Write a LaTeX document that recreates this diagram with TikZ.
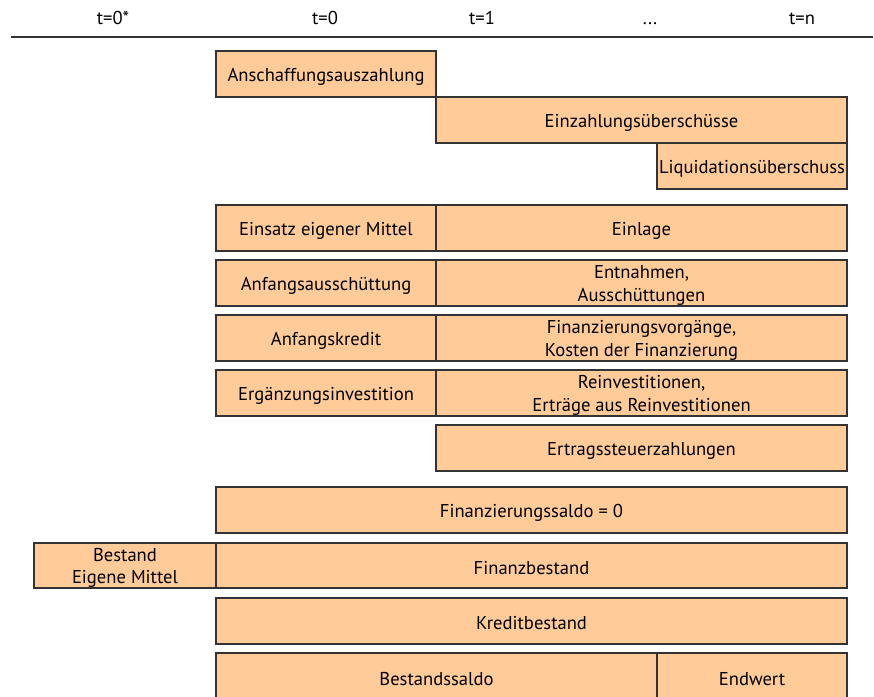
\documentclass[tikz,border=0pt]{standalone}
\usepackage{fontspec}
\setmainfont{PT Sans}
\begin{document}
\begin{tikzpicture}[x=1pt,y=-1pt,
  cell/.style={draw=black!80,line width=1.2pt,fill=boxfill,rectangle,
    anchor=north west,inner sep=0pt,outer sep=0pt},
  txt/.style={align=center,inner sep=0pt,yshift=-2.5pt,
    font=\fontsize{18.6}{22.5}\selectfont},
  head/.style={font=\fontsize{18.6}{22.5}\selectfont,anchor=base}]
\definecolor{boxfill}{HTML}{FFCC99}
% #1 name, #2 top-left corner, #3 width, #4 height, #5 text
\newcommand\cellbox[5]{%
  \node[cell,minimum width=#3pt,minimum height=#4pt,
    label={[txt]center:{#5}}] (#1) at #2 {};}
\useasboundingbox (0,0) rectangle (874,696);
% time axis
\node[head] (h0s) at (113,24) {t=0*};
\node[head] (h0) at (325,24) {t=0};
\node[head] (h1) at (482,24) {t=1};
\node[head] (hd) at (650,24) {...};
\node[head] (hn) at (802,24) {t=n};
\coordinate (axl) at (11,37);
\coordinate (axr) at (873,37);
\draw[line width=1.2pt,black!80] (axl) -- (axr);
% investment payments
\cellbox{aus}{(216,51)}{220}{46}{Anschaffungsauszahlung}
\cellbox{ein}{(436,97)}{411}{46}{Einzahlungsüberschüsse}
\cellbox{liq}{(657,143)}{190}{46}{Liquidationsüberschuss}
% financing rows
\cellbox{eem}{(216,205)}{220}{46}{Einsatz eigener Mittel}
\cellbox{einl}{(436,205)}{411}{46}{Einlage}
\cellbox{aas}{(216,260)}{220}{46}{Anfangsausschüttung}
\cellbox{ent}{(436,260)}{411}{46}{Entnahmen,\\Ausschüttungen}
\cellbox{akr}{(216,315)}{220}{46}{Anfangskredit}
\cellbox{fin}{(436,315)}{411}{46}{Finanzierungsvorgänge,\\Kosten der Finanzierung}
\cellbox{erg}{(216,370)}{220}{46}{Ergänzungsinvestition}
\cellbox{rei}{(436,370)}{411}{46}{Reinvestitionen,\\Erträge aus Reinvestitionen}
\cellbox{est}{(436,425)}{411}{46}{Ertragssteuerzahlungen}
% balances
\cellbox{fsa}{(216,487)}{631}{46}{Finanzierungssaldo = 0}
\cellbox{bem}{(34,543)}{182}{45}{Bestand\\Eigene Mittel}
\cellbox{fbe}{(216,543)}{631}{45}{Finanzbestand}
\cellbox{kbe}{(216,598)}{631}{46}{Kreditbestand}
\cellbox{bsa}{(216,653)}{441}{47}{Bestandssaldo}
\cellbox{ewt}{(657,653)}{190}{47}{Endwert}
\end{tikzpicture}
\end{document}
